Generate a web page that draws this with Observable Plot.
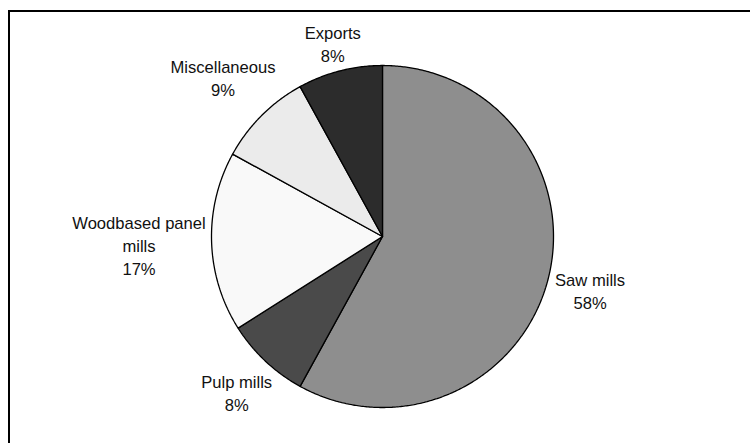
<!DOCTYPE html>
<html>
<head>
<meta charset="utf-8">
<script src="https://cdn.jsdelivr.net/npm/d3@7"></script>
<script src="https://cdn.jsdelivr.net/npm/@observablehq/plot@0.6"></script>
<style>
  html, body { margin: 0; padding: 0; background: #fff; }
  #wrap { position: relative; width: 750px; height: 443px; overflow: hidden; background: #fff; }
  #chart { position: absolute; left: 0; top: 0; }
  #frame { position: absolute; left: 8px; top: 10px; width: 800px; height: 500px;
           border-left: 2px solid #000; border-top: 2px solid #000; pointer-events: none; }
</style>
</head>
<body>
<div id="wrap"><div id="chart"></div><div id="frame"></div></div>
<script>
// ---- data ----
const categories = ["Saw mills", "Pulp mills", "Woodbased panel mills", "Miscellaneous", "Exports"];
const shares = [58, 8, 17, 9, 8];
const labelTexts = ["Saw mills", "Pulp mills", "Woodbased panel\nmills", "Miscellaneous", "Exports"];

// ---- style / layout ----
const W = 750, H = 443;
const cx = 382, cy = 236, R = 171;
const sliceColors = ["#8e8e8e", "#4a4a4a", "#f9f9f9", "#ebebeb", "#2c2c2c"];
const fontSize = 16.6, lineH = 23, fontFamily = "Liberation Sans, Arial, sans-serif";
const labelGap = 176;

const arcs = d3.pie().sort(null).value(d => d)(shares);

// polygon points for each slice
const slicePts = [];
arcs.forEach((a, i) => {
  const name = categories[i];
  slicePts.push({name, x: cx, y: cy});
  const n = Math.max(2, Math.ceil((a.endAngle - a.startAngle) / (Math.PI / 360)));
  for (let k = 0; k <= n; k++) {
    const t = a.startAngle + (a.endAngle - a.startAngle) * k / n;
    slicePts.push({name, x: cx + R * Math.sin(t), y: cy - R * Math.cos(t)});
  }
  slicePts.push({name, x: cx, y: cy});
});

// label placement (box pushed outward along the mid-angle)
const ctx = document.createElement("canvas").getContext("2d");
ctx.font = `${fontSize}px ${fontFamily}`;
const labels = arcs.map((a, i) => {
  const text = labelTexts[i] + "\n" + shares[i] + "%";
  const lines = text.split("\n");
  const hw = d3.max(lines, l => ctx.measureText(l).width) / 2;
  const hh = (lines.length - 1) * lineH / 2 + 6;
  const m = (a.startAngle + a.endAngle) / 2;
  const dx = Math.sin(m), dy = -Math.cos(m);
  const d = labelGap + hw * Math.abs(dx) + hh * Math.abs(dy);
  return {text, x: cx + d * dx, y: cy + d * dy};
});

const marks = categories.map((c, i) =>
  Plot.line(slicePts.filter(p => p.name === c), {
    x: "x", y: "y", fill: sliceColors[i], stroke: "#000", strokeWidth: 1.3,
    strokeLinejoin: "miter", curve: "linear"
  })
);
marks.push(Plot.text(labels, {
  x: "x", y: "y", text: "text", textAnchor: "middle", lineAnchor: "middle",
  lineHeight: lineH / fontSize, fontSize, fontFamily, fill: "#111"
}));

const chart = Plot.plot({
  width: W, height: H,
  margin: 0,
  x: {domain: [0, W], range: [0, W], axis: null},
  y: {domain: [0, H], range: [0, H], axis: null},
  style: {background: "#fff", fontFamily},
  marks
});
document.getElementById("chart").appendChild(chart);
</script>
</body>
</html>
